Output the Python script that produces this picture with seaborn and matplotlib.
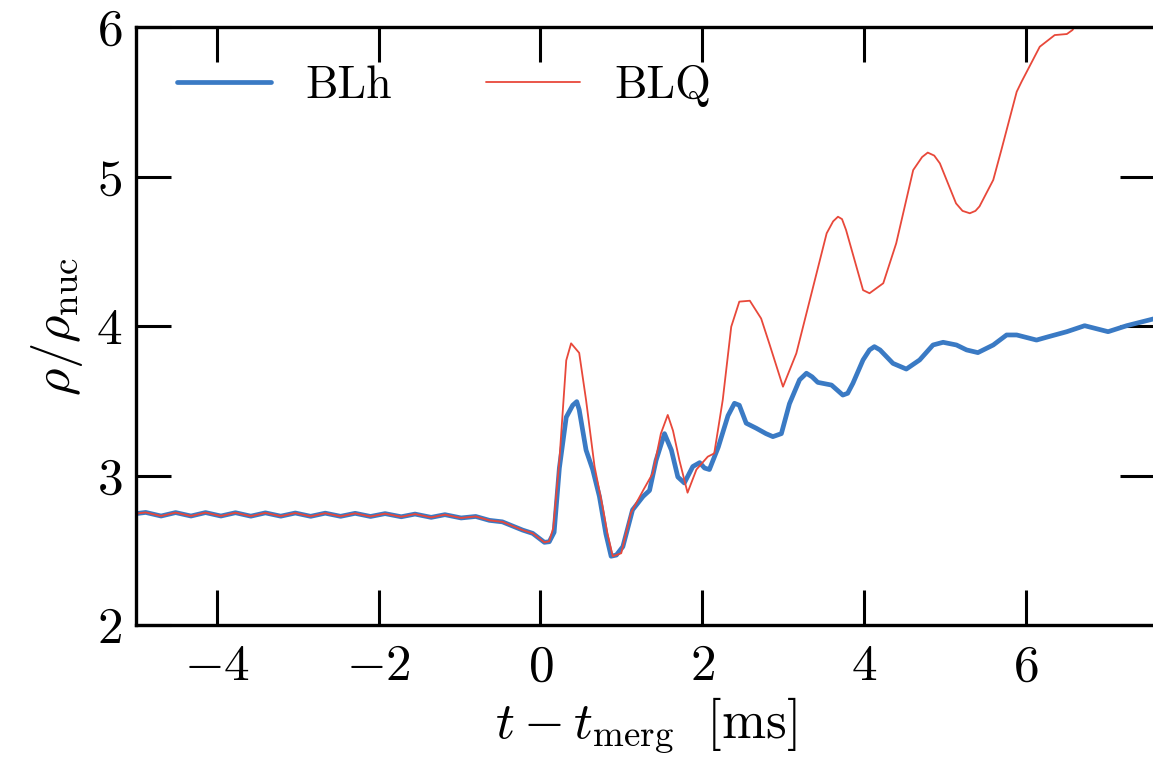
import numpy as np
import pandas as pd
import matplotlib
matplotlib.use("Agg")
import matplotlib.pyplot as plt
import seaborn as sns

# ---- data ----
pre_t = [-5.00, -4.88, -4.69, -4.51, -4.32, -4.14, -3.95, -3.77, -3.58, -3.40, -3.21,
         -3.03, -2.84, -2.66, -2.47, -2.29, -2.10, -1.92, -1.72, -1.55, -1.35, -1.18,
         -0.98, -0.80]
pre_rho = [2.745, 2.753, 2.729, 2.752, 2.729, 2.752, 2.729, 2.751, 2.728, 2.750, 2.728,
           2.749, 2.727, 2.748, 2.727, 2.747, 2.726, 2.745, 2.724, 2.742, 2.720, 2.738,
           2.716, 2.726]

blh_t = [-0.63, -0.47, -0.22, -0.095, 0.05, 0.11, 0.17, 0.235, 0.32, 0.40, 0.45, 0.48,
         0.565, 0.647, 0.73, 0.81, 0.875, 0.94, 1.02, 1.14, 1.27, 1.35, 1.43, 1.535,
         1.62, 1.70, 1.78, 1.885, 1.97, 2.03, 2.09, 2.20, 2.32, 2.40, 2.46, 2.545,
         2.67, 2.79, 2.875, 2.98, 3.08, 3.205, 3.29, 3.36, 3.43, 3.60, 3.74, 3.80,
         3.865, 3.99, 4.07, 4.13, 4.20, 4.36, 4.525, 4.69, 4.855, 4.98, 5.145, 5.27,
         5.41, 5.60, 5.765, 5.89, 6.135, 6.28, 6.51, 6.73, 7.02, 7.25, 7.60]
blh_rho = [2.700, 2.690, 2.635, 2.613, 2.553, 2.557, 2.620, 3.050, 3.390, 3.470, 3.494, 3.440,
           3.170, 3.040, 2.860, 2.610, 2.460, 2.468, 2.524, 2.770, 2.860, 2.900, 3.100, 3.280,
           3.170, 2.990, 2.950, 3.060, 3.086, 3.050, 3.040, 3.190, 3.400, 3.483, 3.470, 3.350,
           3.316, 3.280, 3.260, 3.280, 3.480, 3.640, 3.684, 3.660, 3.623, 3.605, 3.538, 3.550,
           3.617, 3.773, 3.840, 3.862, 3.840, 3.750, 3.712, 3.773, 3.873, 3.891, 3.873, 3.840,
           3.822, 3.873, 3.940, 3.940, 3.906, 3.928, 3.962, 4.002, 3.962, 4.002, 4.050]

blq_t = [-0.63, -0.47, -0.22, -0.095, 0.05, 0.11, 0.16, 0.235, 0.32, 0.38, 0.48, 0.565,
         0.67, 0.77, 0.83, 0.895, 1.00, 1.12, 1.27, 1.39, 1.49, 1.575, 1.64, 1.72,
         1.82, 1.93, 2.07, 2.15, 2.255, 2.36, 2.46, 2.59, 2.73, 2.83, 3.00, 3.165,
         3.33, 3.54, 3.62, 3.68, 3.73, 3.78, 3.99, 4.07, 4.24, 4.40, 4.61, 4.72,
         4.79, 4.87, 4.94, 5.14, 5.22, 5.31, 5.38, 5.43, 5.60, 5.70, 5.89, 5.95,
         6.175, 6.36, 6.51, 6.58, 6.65, 6.80]
blq_rho = [2.700, 2.690, 2.635, 2.613, 2.553, 2.560, 2.650, 3.100, 3.770, 3.884, 3.820, 3.505,
           3.060, 2.790, 2.610, 2.460, 2.480, 2.750, 2.900, 3.015, 3.280, 3.405, 3.300, 3.100,
           2.885, 3.040, 3.126, 3.148, 3.505, 3.995, 4.163, 4.169, 4.050, 3.884, 3.594, 3.817,
           4.170, 4.620, 4.700, 4.731, 4.715, 4.642, 4.240, 4.219, 4.286, 4.553, 5.043, 5.130,
           5.160, 5.140, 5.088, 4.820, 4.770, 4.754, 4.770, 4.800, 4.977, 5.177, 5.567, 5.634,
           5.868, 5.946, 5.953, 5.980, 6.050, 6.200]

labels = ["BLh", "BLQ"]
colors = {"BLh": "#3A7AC4", "BLQ": "#E8483A"}
widths = {"BLh": 3.4, "BLQ": 1.3}

xticks = [-4, -2, 0, 2, 4, 6]
yticks = [2, 3, 4, 5, 6]

df = pd.concat([
    pd.DataFrame({"t": pre_t + blh_t, "rho": pre_rho + blh_rho, "model": "BLh"}),
    pd.DataFrame({"t": pre_t + blq_t, "rho": pre_rho + blq_rho, "model": "BLQ"}),
], ignore_index=True)

sns.set_style("ticks")
plt.rcParams["font.family"] = "serif"
plt.rcParams["font.serif"] = ["cmr10", "DejaVu Serif"]
plt.rcParams["mathtext.fontset"] = "cm"
plt.rcParams["axes.formatter.use_mathtext"] = True
plt.rcParams["axes.unicode_minus"] = True
for k in ["text.color", "axes.labelcolor", "xtick.color", "ytick.color", "axes.edgecolor"]:
    plt.rcParams[k] = "black"

fig = plt.figure(figsize=(11.53, 7.62), dpi=100)
ax = fig.add_axes([136 / 1153, 1 - 625 / 762, (1155 - 136) / 1153, (625 - 27) / 762])

for lab in labels:
    sns.lineplot(data=df[df["model"] == lab], x="t", y="rho", ax=ax, sort=False,
                 estimator=None, color=colors[lab], lw=widths[lab], label=lab)

ax.set_xlim(-5, 7.6)
ax.set_ylim(2, 6)
ax.set_xticks(xticks)
ax.set_yticks(yticks)
ax.tick_params(direction="in", top=True, right=True, length=25, width=2.2,
               labelsize=37, colors="black")
ax.tick_params(axis="x", pad=14)
ax.tick_params(axis="y", pad=10)
for s in ax.spines.values():
    s.set_linewidth(2.4)
    s.set_color("black")

ax.set_xlabel(r"$t - t_{\rm merg}\ \ [{\rm ms}]$", fontsize=38, labelpad=4)
ax.set_ylabel(r"$\rho/\rho_{\rm nuc}$", fontsize=38, labelpad=8)

leg = ax.legend(loc="upper left", ncol=2, frameon=False, fontsize=33,
                handlelength=2.05, handletextpad=0.75, columnspacing=2.05,
                bbox_to_anchor=(0.0, 1.005))

fig.savefig("out.png", dpi=100)
